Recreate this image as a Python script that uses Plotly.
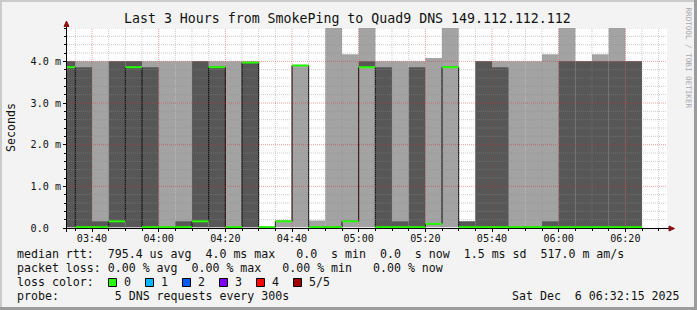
import plotly.graph_objects as go
import pandas as pd

# ---------------- data ----------------
DAY = "2025-12-06"
interval_start = [
    "03:30", "03:35", "03:40", "03:45", "03:50", "03:55",
    "04:00", "04:05", "04:10", "04:15", "04:20", "04:25",
    "04:30", "04:35", "04:40", "04:45", "04:50", "04:55",
    "05:00", "05:05", "05:10", "05:15", "05:20", "05:25",
    "05:30", "05:35", "05:40", "05:45", "05:50", "05:55",
    "06:00", "06:05", "06:10", "06:15", "06:20",
]
# sorted ping samples per 5 min step (ms): smallest, 2nd, median, 4th, largest
ping_min = [0.02] * 35
ping_lo = [0.02, 0.02, 0.02, 0.02, 0.02, 0.02,
           0.02, 0.02, 0.02, 0.02, 0.02, 0.02,
           0.02, 0.16, 3.90, 0.02, 0.02, 0.16,
           3.86, 0.02, 0.02, 0.02, 0.10, 3.86,
           0.02, 0.02, 0.02, 0.02, 0.02, 0.02,
           0.02, 0.02, 0.02, 0.02, 0.02]
median_rtt = [3.86, 0.02, 0.02, 0.16, 3.86, 0.02,
              0.02, 0.02, 0.16, 3.86, 0.02, 3.97,
              0.02, 0.16, 3.90, 0.02, 0.02, 0.16,
              3.86, 0.02, 0.02, 0.02, 0.10, 3.86,
              0.02, 0.02, 0.02, 0.02, 0.02, 0.02,
              0.02, 0.02, 0.02, 0.02, 0.02]
ping_hi = [4.0, 3.86, 0.16, 4.0, 4.0, 3.86,
           0.02, 0.16, 4.0, 3.86, 0.02, 3.98,
           0.02, 0.16, 3.90, 0.02, 0.02, 0.16,
           4.0, 3.86, 0.16, 3.86, 0.10, 3.86,
           0.16, 4.0, 3.86, 0.02, 0.02, 0.16,
           4.0, 4.0, 4.0, 4.0, 4.0]
ping_max = [4.0, 4.0, 4.0, 4.0, 4.0, 4.0,
            4.0, 4.0, 4.0, 4.0, 4.0, 4.0,
            0.02, 0.18, 3.92, 0.18, 4.8, 4.17,
            4.8, 4.0, 4.0, 4.0, 4.08, 4.8,
            0.16, 4.0, 4.0, 4.0, 4.0, 4.17,
            4.8, 4.0, 4.17, 4.8, 4.0]

y_tick_vals = [0, 1, 2, 3, 4]
y_tick_text = ["0.0  ", "1.0 m", "2.0 m", "3.0 m", "4.0 m"]

loss_labels = ["0", "1", "2", "3", "4", "5/5"]
loss_colors = ["#26ff00", "#00b8ff", "#0059ff", "#7e00ff", "#ff0000", "#a10000"]

title_text = "Last 3 Hours from SmokePing to Quad9 DNS 149.112.112.112"
legend_rtt = "median rtt:  795.4 us avg  4.0 ms max   0.0  s min  0.0  s now  1.5 ms sd  517.0 m am/s"
legend_loss = "packet loss: 0.00 % avg  0.00 % max   0.00 % min   0.00 % now"
legend_losscolor = "loss color:"
legend_probe = "probe:        5 DNS requests every 300s"
stamp = "Sat Dec  6 06:32:15 2025"
watermark = "RRDTOOL / TOBI OETIKER"

# ---------------- style ----------------
FONT = "DejaVu Sans Mono"
LIGHT = "#a3a3a3"
DARK = "#575757"
BG = "#f3f3f3"
MINOR_GRID = "rgba(140,140,140,0.45)"
MAJOR_GRID = "rgba(220,40,40,0.45)"
STEP_MS = 300000
W, H = 697, 310
L, R, T, B = 67, 30, 28, 82
PW, PH = W - L - R, H - T - B


def nb(s):
    return s.replace(" ", "\u00a0")


def px_x(px):
    return (px - L) / PW


def px_y(py):
    return (H - B - py) / PH


starts = pd.to_datetime([f"{DAY} {t}" for t in interval_start])
ends = starts + pd.Timedelta(milliseconds=STEP_MS)

fig = go.Figure()
fig.add_bar(x=starts, y=[b - a for a, b in zip(ping_min, ping_max)], base=ping_min,
            width=STEP_MS, offset=0, marker=dict(color=LIGHT, line=dict(width=0)),
            hoverinfo="skip")
fig.add_bar(x=starts, y=[b - a for a, b in zip(ping_lo, ping_hi)], base=ping_lo,
            width=STEP_MS, offset=0, marker=dict(color=DARK, line=dict(width=0)),
            hoverinfo="skip")
fig.add_scatter(x=list(starts) + [ends[-1]], y=median_rtt + [median_rtt[-1]],
                mode="lines", line=dict(color="#000000", width=1, shape="hv"),
                hoverinfo="skip")
gx, gy = [], []
for s, e, m in zip(starts, ends, median_rtt):
    gx += [s, e, None]
    gy += [m, m, None]
fig.add_scatter(x=gx, y=gy, mode="lines", line=dict(color=loss_colors[0], width=2),
                hoverinfo="skip")

x0 = pd.Timestamp(f"{DAY} 03:32:30")
x1 = pd.Timestamp(f"{DAY} 06:32:30")

shapes = []
# grid (drawn above the smoke, like rrdtool)
t = pd.Timestamp(f"{DAY} 03:35")
while t < x1:
    major = (t.minute % 20 == 0)
    shapes.append(dict(type="line", xref="x", yref="paper", x0=t, x1=t, y0=0, y1=1,
                       layer="above",
                       line=dict(color=MAJOR_GRID if major else MINOR_GRID, width=1,
                                 dash="1px,1px")))
    t += pd.Timedelta(milliseconds=STEP_MS)
for k in range(1, 25):
    v = k * 0.2
    major = (k % 5 == 0)
    shapes.append(dict(type="line", xref="paper", yref="y", x0=0, x1=1, y0=v, y1=v,
                       layer="above",
                       line=dict(color=MAJOR_GRID if major else MINOR_GRID, width=1,
                                 dash="1px,1px")))
# axes lines + arrows
shapes.append(dict(type="line", xref="paper", yref="paper", x0=px_x(63), x1=px_x(670),
                   y0=px_y(228.5), y1=px_y(228.5), layer="above",
                   line=dict(color="#000000", width=1)))
shapes.append(dict(type="line", xref="paper", yref="paper", x0=px_x(66.5), x1=px_x(66.5),
                   y0=px_y(232), y1=px_y(25), layer="above",
                   line=dict(color="#000000", width=1)))
ay = f"M {px_x(64)} {px_y(26.5)} L {px_x(69)} {px_y(26.5)} L {px_x(66.5)} {px_y(21)} Z"
ax = f"M {px_x(669)} {px_y(226)} L {px_x(669)} {px_y(231)} L {px_x(674.5)} {px_y(228.5)} Z"
for p in (ay, ax):
    shapes.append(dict(type="path", xref="paper", yref="paper", path=p, layer="above",
                       fillcolor="#8b0f0f", line=dict(color="#8b0f0f", width=1)))
# frame (rrdtool 3D border)
shapes.append(dict(type="rect", xref="paper", yref="paper", x0=px_x(0), x1=px_x(697),
                   y0=px_y(0), y1=px_y(2), line=dict(width=0), fillcolor="#cbcbcb"))
shapes.append(dict(type="rect", xref="paper", yref="paper", x0=px_x(0), x1=px_x(2),
                   y0=px_y(0), y1=px_y(310), line=dict(width=0), fillcolor="#cbcbcb"))
shapes.append(dict(type="rect", xref="paper", yref="paper", x0=px_x(0), x1=px_x(697),
                   y0=px_y(307), y1=px_y(310), line=dict(width=0), fillcolor="#9c9c9c"))
shapes.append(dict(type="rect", xref="paper", yref="paper", x0=px_x(694), x1=px_x(697),
                   y0=px_y(0), y1=px_y(310), line=dict(width=0), fillcolor="#9c9c9c"))
# loss colour boxes
for i, c in enumerate(loss_colors):
    bx = 108.5 + i * 37
    shapes.append(dict(type="rect", xref="paper", yref="paper", x0=px_x(bx), x1=px_x(bx + 8),
                       y0=px_y(278.5), y1=px_y(286.5), fillcolor=c,
                       line=dict(color="#000000", width=1)))

ann = []


def txt(s, px, py, size, anchor="left", color="#111111", angle=0):
    ann.append(dict(text=nb(s), x=px_x(px), y=px_y(py), xref="paper", yref="paper",
                    xanchor=anchor, yanchor="middle", showarrow=False, textangle=angle,
                    font=dict(family=FONT, size=size, color=color)))


txt(title_text, 347.5, 18.5, 13.25, anchor="center")
txt("Seconds", 11, 128, 11.6, anchor="center", angle=-90)
txt(legend_rtt, 15, 253.8, 11.6)
txt(legend_loss, 15, 268, 11.6)
txt(legend_losscolor, 15, 282.2, 11.6)
for i, lab in enumerate(loss_labels):
    txt(lab, 121.8 + i * 37, 282.2, 11.6)
txt(legend_probe, 15, 296.4, 11.6)
txt(stamp, 681.5, 296.4, 11.6, anchor="right")
txt(watermark, 688.5, 58, 7.6, anchor="center", color="#a8a8a8", angle=90)

fig.update_layout(
    width=W, height=H, margin=dict(l=L, r=R, t=T, b=B, pad=0),
    paper_bgcolor=BG, plot_bgcolor="#ffffff", barmode="overlay", showlegend=False,
    font=dict(family=FONT, size=10.1, color="#111111"),
    shapes=shapes, annotations=ann,
)
fig.update_xaxes(
    type="date", range=[x0, x1], showgrid=False, zeroline=False, showline=False,
    tick0=f"{DAY} 03:40", dtick=1200000, tickformat="%H:%M",
    ticks="outside", ticklen=3, tickcolor="#000000", tickwidth=1,
    ticklabelstandoff=-2,
    minor=dict(ticks="outside", ticklen=2, tick0=f"{DAY} 03:35", dtick=STEP_MS,
               tickcolor="#000000", showgrid=False),
    tickfont=dict(family=FONT, size=10.1, color="#111111"), automargin=False,
)
fig.update_yaxes(
    range=[0, 4.8], showgrid=False, zeroline=False, showline=False,
    tickmode="array", tickvals=y_tick_vals, ticktext=[nb(s) for s in y_tick_text],
    ticks="outside", ticklen=3, tickcolor="#000000", tickwidth=1,
    minor=dict(ticks="outside", ticklen=2, tick0=0, dtick=0.2, tickcolor="#000000",
               showgrid=False),
    tickfont=dict(family=FONT, size=10.1, color="#111111"), automargin=False,
)

fig.write_html("out.html")
